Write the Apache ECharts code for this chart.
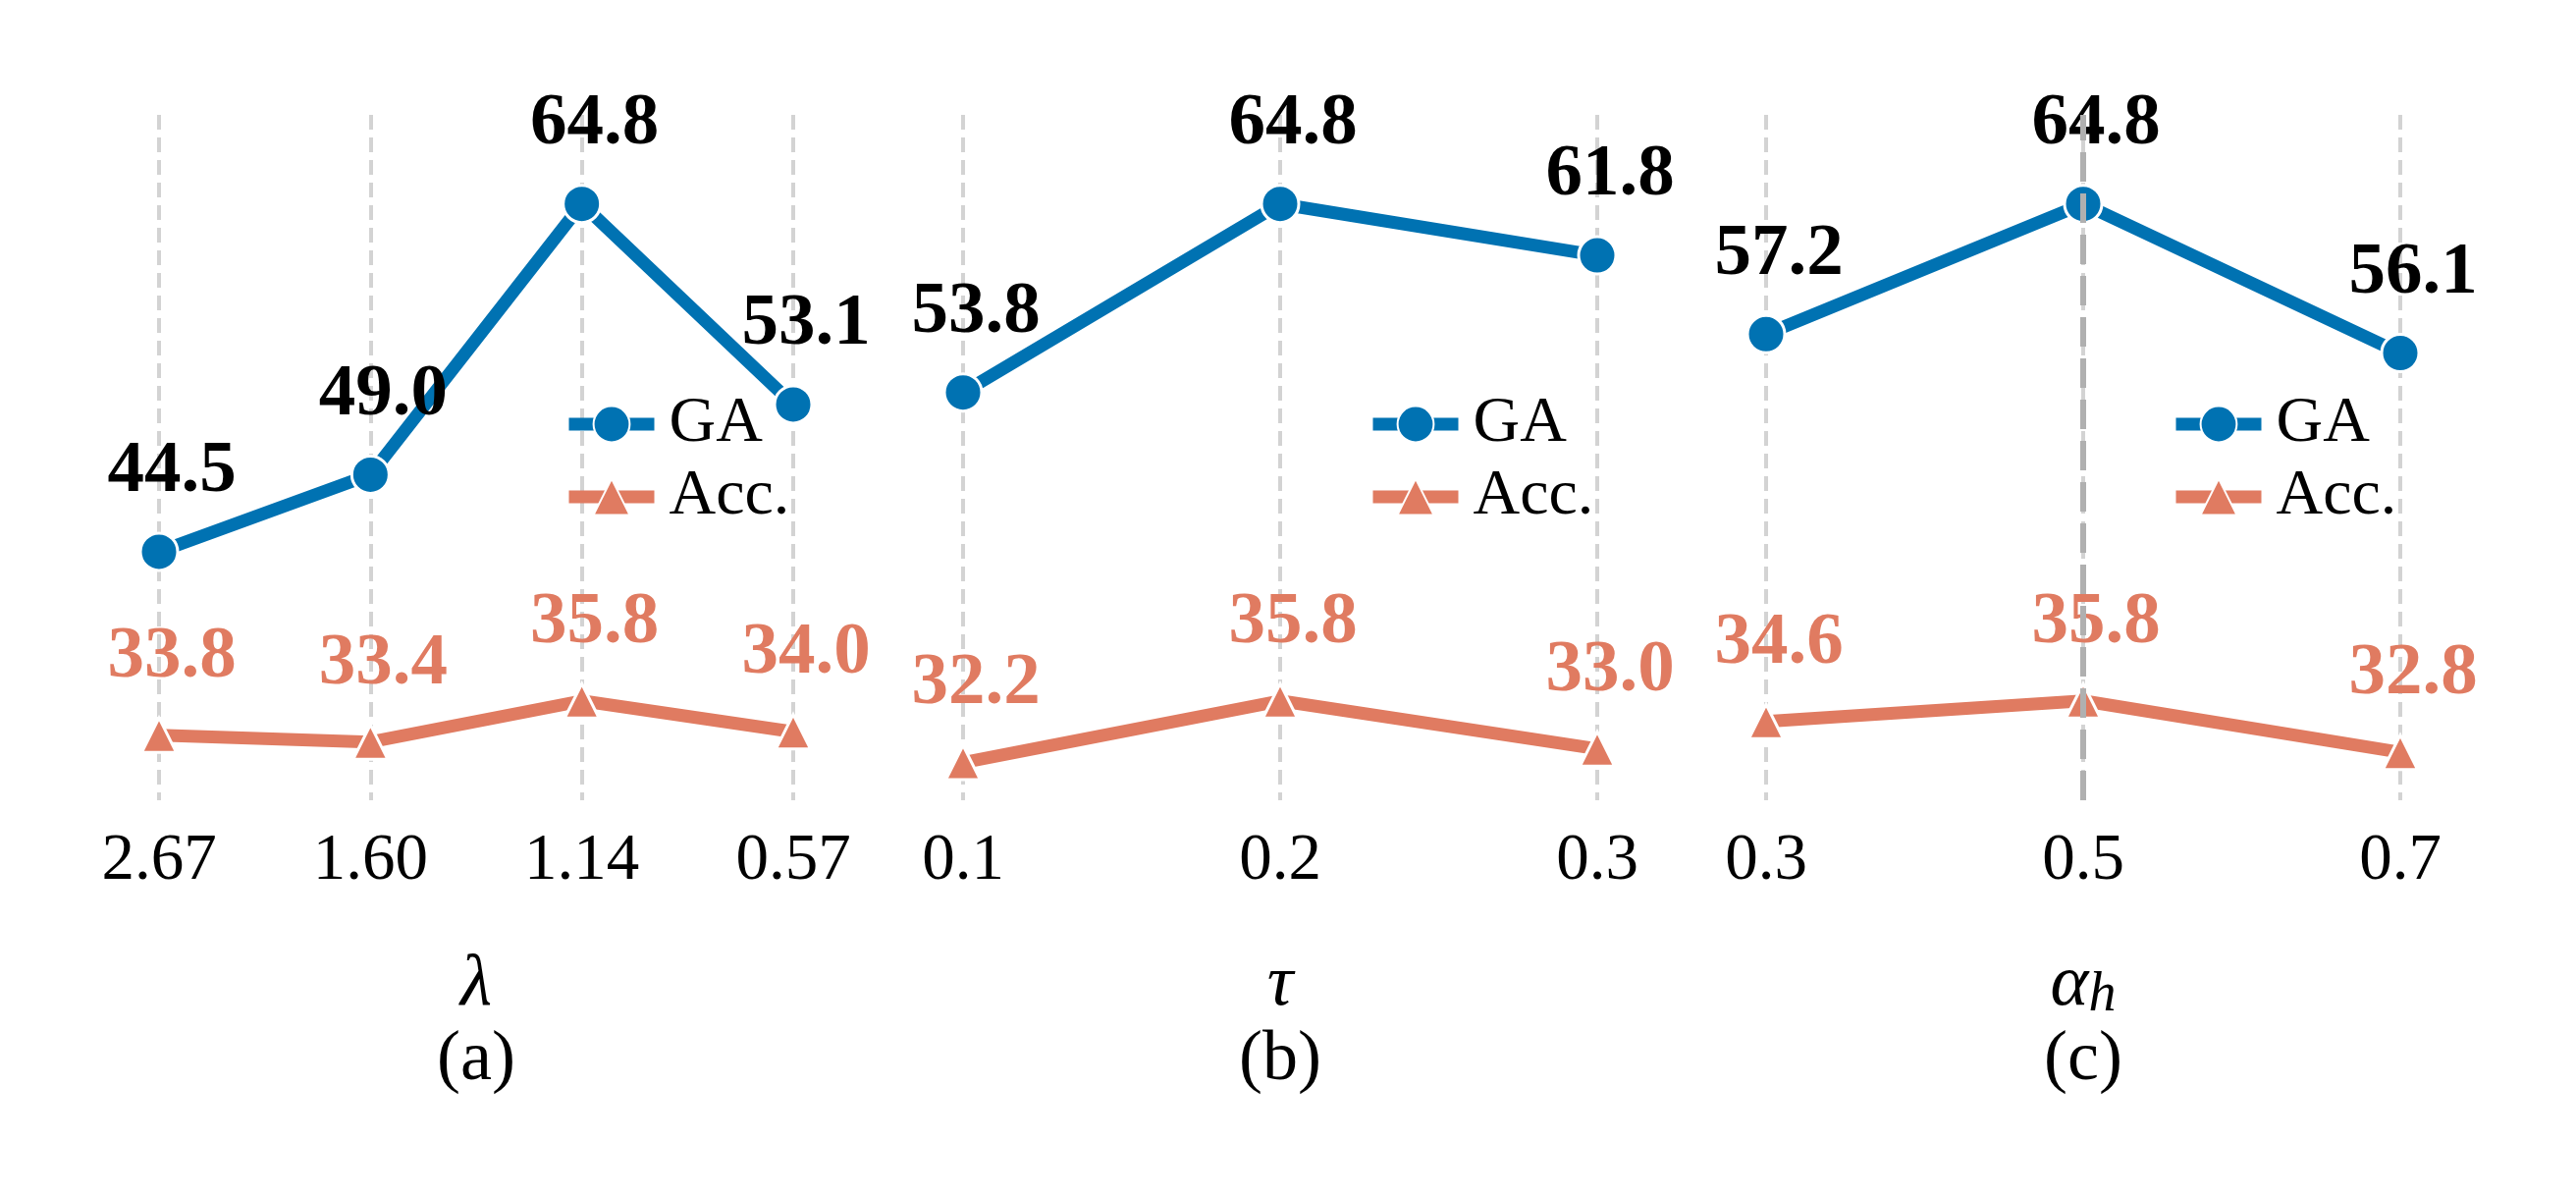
<!DOCTYPE html>
<html lang="en">
<head>
    <meta charset="UTF-8">
    <title>GA / Acc. sensitivity</title>
    <script type="text/javascript" src="https://cdn.jsdelivr.net/npm/echarts@6/dist/echarts.min.js"></script>
    <style>
        html, body { margin: 0; padding: 0; background: #fff; }
    </style>
</head>
<body>
<div id="main" style="width: 2624px;height:1216px;"></div>
<script type="text/javascript">
    // categories (x tick labels) of the three panels
    var lambdaCats = ['2.67', '1.60', '1.14', '0.57'];
    var tauCats = ['0.1', '0.2', '0.3'];
    var alphaCats = ['0.3', '0.5', '0.7'];

    // values
    var gaLambda = [44.5, 49.0, 64.8, 53.1];
    var accLambda = [33.8, 33.4, 35.8, 34.0];
    var gaTau = [53.8, 64.8, 61.8];
    var accTau = [32.2, 35.8, 33.0];
    var gaAlpha = [57.2, 64.8, 56.1];
    var accAlpha = [34.6, 35.8, 32.8];

    var blue = '#0072b2';
    var orange = '#e07b61';
    var serif = "'Liberation Serif', 'Times New Roman', serif";

    var panels = [
        {cats: lambdaCats, ga: gaLambda, acc: accLambda, left: 162, name: '{m|λ}\n{p|(a)}'},
        {cats: tauCats, ga: gaTau, acc: accTau, left: 981, name: '{m|τ}\n{p|(b)}'},
        {cats: alphaCats, ga: gaAlpha, acc: accAlpha, left: 1799, name: '{m|α}{s|h}\n{p|(c)}'}
    ];

    var grids = [], xAxes = [], yAxes = [], series = [], legends = [];

    function valueLabel(color) {
        return {
            show: true,
            position: 'top',
            distance: 23,
            offset: [13, 0],
            fontFamily: serif,
            fontSize: 75,
            fontWeight: 'bold',
            color: color,
            formatter: function (p) { return p.value.toFixed(1); }
        };
    }

    panels.forEach(function (p, i) {
        grids.push({left: p.left, top: 117, width: 646, height: 698});
        xAxes.push({
            type: 'category',
            gridIndex: i,
            data: p.cats,
            boundaryGap: false,
            axisLine: {show: false},
            axisTick: {show: false},
            axisLabel: {fontFamily: serif, fontSize: 67, color: '#000', margin: 29},
            splitLine: {show: true, lineStyle: {color: '#d3d3d3', width: 4, type: [15, 8]}},
            name: p.name,
            nameLocation: 'middle',
            nameGap: 150,
            nameTextStyle: {
                fontFamily: serif,
                color: '#000',
                rich: {
                    m: {fontFamily: serif, fontStyle: 'italic', fontSize: 74, lineHeight: 77, color: '#000'},
                    s: {fontFamily: serif, fontStyle: 'italic', fontSize: 56, lineHeight: 40, verticalAlign: 'bottom', color: '#000'},
                    p: {fontFamily: serif, fontSize: 72, lineHeight: 77, color: '#000'}
                }
            }
        });
        yAxes.push({type: 'value', gridIndex: i, min: 30, max: 70, show: false});

        series.push({
            name: 'GA',
            type: 'line',
            xAxisIndex: i,
            yAxisIndex: i,
            data: p.ga,
            z: 3,
            symbol: 'circle',
            symbolSize: 38,
            lineStyle: {color: blue, width: 13},
            itemStyle: {color: blue, borderColor: '#fff', borderWidth: 3},
            label: valueLabel('#000')
        });
        series.push({
            name: 'Acc.',
            type: 'line',
            xAxisIndex: i,
            yAxisIndex: i,
            data: p.acc,
            z: 3,
            symbol: 'triangle',
            symbolSize: 35,
            lineStyle: {color: orange, width: 13},
            itemStyle: {color: orange, borderColor: '#fff', borderWidth: 3},
            label: valueLabel(orange)
        });

        legends.push({
            data: ['GA', 'Acc.'],
            orient: 'vertical',
            left: p.left + 406,
            top: 394,
            itemWidth: 87,
            itemHeight: 46,
            itemGap: 8,
            selectedMode: false,
            lineStyle: {width: 13},
            textStyle: {fontFamily: serif, fontSize: 66, color: '#000', padding: [0, 0, 0, 10]}
        });
    });

    // highlighted value in panel (c)
    series.push({
        name: 'mark',
        type: 'line',
        xAxisIndex: 2,
        yAxisIndex: 2,
        data: [],
        z: 2,
        markLine: {
            silent: true,
            symbol: 'none',
            label: {show: false},
            lineStyle: {color: '#b0b0b0', width: 6, type: [30, 12]},
            data: [{xAxis: '0.5'}]
        }
    });

    var option = {
        backgroundColor: '#fff',
        animation: false,
        grid: grids,
        xAxis: xAxes,
        yAxis: yAxes,
        legend: legends,
        series: series
    };

    var myChart = echarts.init(document.getElementById('main'));
    myChart.setOption(option);
</script>
</body>
</html>
